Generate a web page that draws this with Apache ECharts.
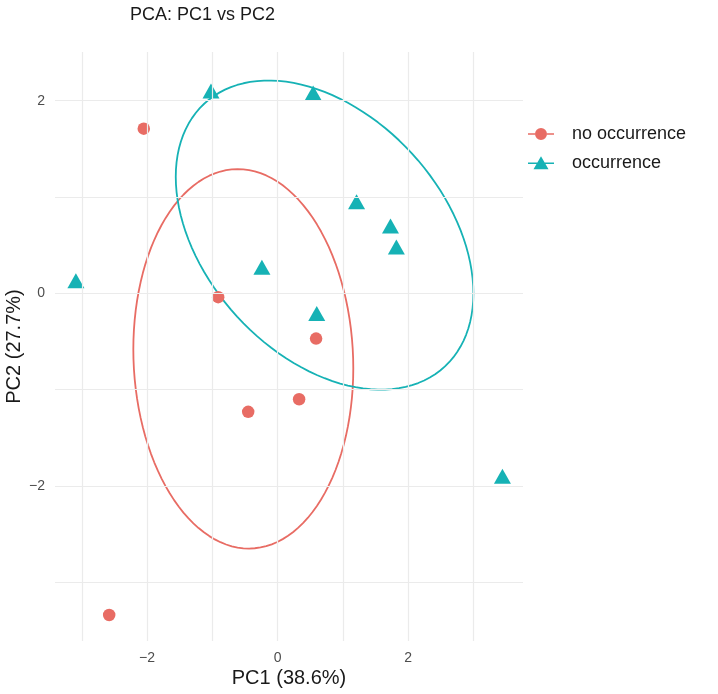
<!DOCTYPE html>
<html>
<head>
<meta charset="utf-8">
<script src="https://cdn.jsdelivr.net/npm/echarts@6/dist/echarts.min.js"></script>
<style>
  html, body { margin: 0; padding: 0; background: #fff; }
  #chart { width: 718px; height: 694px; }
</style>
</head>
<body>
<div id="chart"></div>
<script>
// points (PC1, PC2)
var groups = ["no occurrence", "occurrence"]
var noOccX = [-2.05, -0.91, 0.59, -0.45, 0.33, -2.58]
var noOccY = [1.71, -0.04, -0.47, -1.23, -1.10, -3.34]
var occX = [-1.02, 0.545, -3.09, -0.24, 0.60, 1.21, 1.73, 1.82, 3.445]
var occY = [2.10, 2.08, 0.13, 0.27, -0.21, 0.95, 0.70, 0.48, -1.90]

// ellipse shape per group: centre, half-widths, phase of the tilt
var ellCenter = [[-0.525, -0.68], [0.72, 0.605]]
var ellRadius = [[1.685, 1.97], [2.28, 1.605]]
var ellPhase = [-0.05, -0.387]

var xTicks = [-2, 0, 2]
var yTicks = [-2, 0, 2]
var xGrid = [-3, -2, -1, 0, 1, 2, 3]
var yGrid = [-3, -2, -1, 0, 1, 2]

var colors = ["#E86C64", "#16B2B5"]

function zip(xs, ys){
    return xs.map(function(x, i){ return [x, ys[i]] })
}

function ellipse(k){
    var pts = []
    for (var i = 0; i <= 120; i++){
        var t = i / 120 * Math.PI * 2
        pts.push([
            ellCenter[k][0] + ellRadius[k][0] * Math.cos(t),
            ellCenter[k][1] + ellRadius[k][1] * Math.sin(t + ellPhase[k])
        ])
    }
    return pts
}

var minus = function(v){ return String(v).replace("-", "\u2212") }

var gridLines = xGrid.map(function(v){ return { xAxis: v } })
    .concat(yGrid.map(function(v){ return { yAxis: v } }))

var circleIcon = "path://M0,6.2 L7,6.2 L7,7.8 L0,7.8 Z M19,6.2 L26,6.2 L26,7.8 L19,7.8 Z M13,1 A6,6 0 1 1 12.99,1 Z"
var triIcon = "path://M0,6.2 L9.6,6.2 L9.6,7.8 L0,7.8 Z M16.4,6.2 L26,6.2 L26,7.8 L16.4,7.8 Z M13,0 L20.5,13 L5.5,13 Z"

var chart = echarts.init(document.getElementById("chart"))
var option = {
    animation: false,
    textStyle: { fontFamily: "Liberation Sans, Arial, sans-serif" },
    title: {
        text: "PCA: PC1 vs PC2",
        left: 130,
        top: 6,
        padding: 0,
        textStyle: { fontSize: 18, fontWeight: "normal", color: "#1a1a1a" }
    },
    legend: {
        left: 523,
        top: 120,
        orient: "vertical",
        itemWidth: 26,
        itemHeight: 14,
        itemGap: 10.7,
        textStyle: { fontSize: 18, color: "#1a1a1a", padding: [0, 0, 0, 13] },
        data: [
            { name: groups[0], icon: circleIcon },
            { name: groups[1], icon: triIcon }
        ]
    },
    grid: { left: 55, top: 52, width: 468, height: 589, outerBoundsMode: "none", containLabel: false },
    xAxis: {
        type: "value",
        min: -3.41,
        max: 3.76,
        name: "PC1 (38.6%)",
        nameLocation: "middle",
        nameGap: 27,
        nameMoveOverlap: false,
        nameTextStyle: { fontSize: 20, color: "#1a1a1a" },
        axisLine: { show: false },
        axisTick: { show: false },
        splitLine: { show: false },
        axisLabel: { customValues: xTicks, formatter: minus, fontSize: 14, color: "#4d4d4d", margin: 10 }
    },
    yAxis: {
        type: "value",
        min: -3.61,
        max: 2.506,
        name: "PC2 (27.7%)",
        nameLocation: "middle",
        nameGap: 31,
        nameMoveOverlap: false,
        nameTextStyle: { fontSize: 20, color: "#1a1a1a" },
        axisLine: { show: false },
        axisTick: { show: false },
        splitLine: { show: false },
        axisLabel: { customValues: yTicks, formatter: minus, fontSize: 14, color: "#4d4d4d", margin: 10 }
    },
    series: [
        {
            name: "grid",
            type: "line",
            data: [],
            z: 0,
            silent: true,
            markLine: {
                silent: true,
                symbol: "none",
                label: { show: false },
                lineStyle: { color: "#ebebeb", width: 1.2, type: "solid" },
                data: gridLines
            }
        },
        {
            name: "ellipse no occurrence",
            type: "line",
            data: ellipse(0),
            showSymbol: false,
            silent: true,
            lineStyle: { color: colors[0], width: 1.8 },
            z: 2
        },
        {
            name: "ellipse occurrence",
            type: "line",
            data: ellipse(1),
            showSymbol: false,
            silent: true,
            lineStyle: { color: colors[1], width: 1.8 },
            z: 2
        },
        {
            name: groups[0],
            type: "scatter",
            data: zip(noOccX, noOccY),
            symbol: "circle",
            symbolSize: 12.5,
            itemStyle: { color: colors[0], opacity: 1 },
            z: 3
        },
        {
            name: groups[1],
            type: "scatter",
            data: zip(occX, occY),
            symbol: "triangle",
            symbolSize: [17, 15],
            itemStyle: { color: colors[1], opacity: 1 },
            z: 3
        }
    ]
}
chart.setOption(option)
</script>
</body>
</html>
